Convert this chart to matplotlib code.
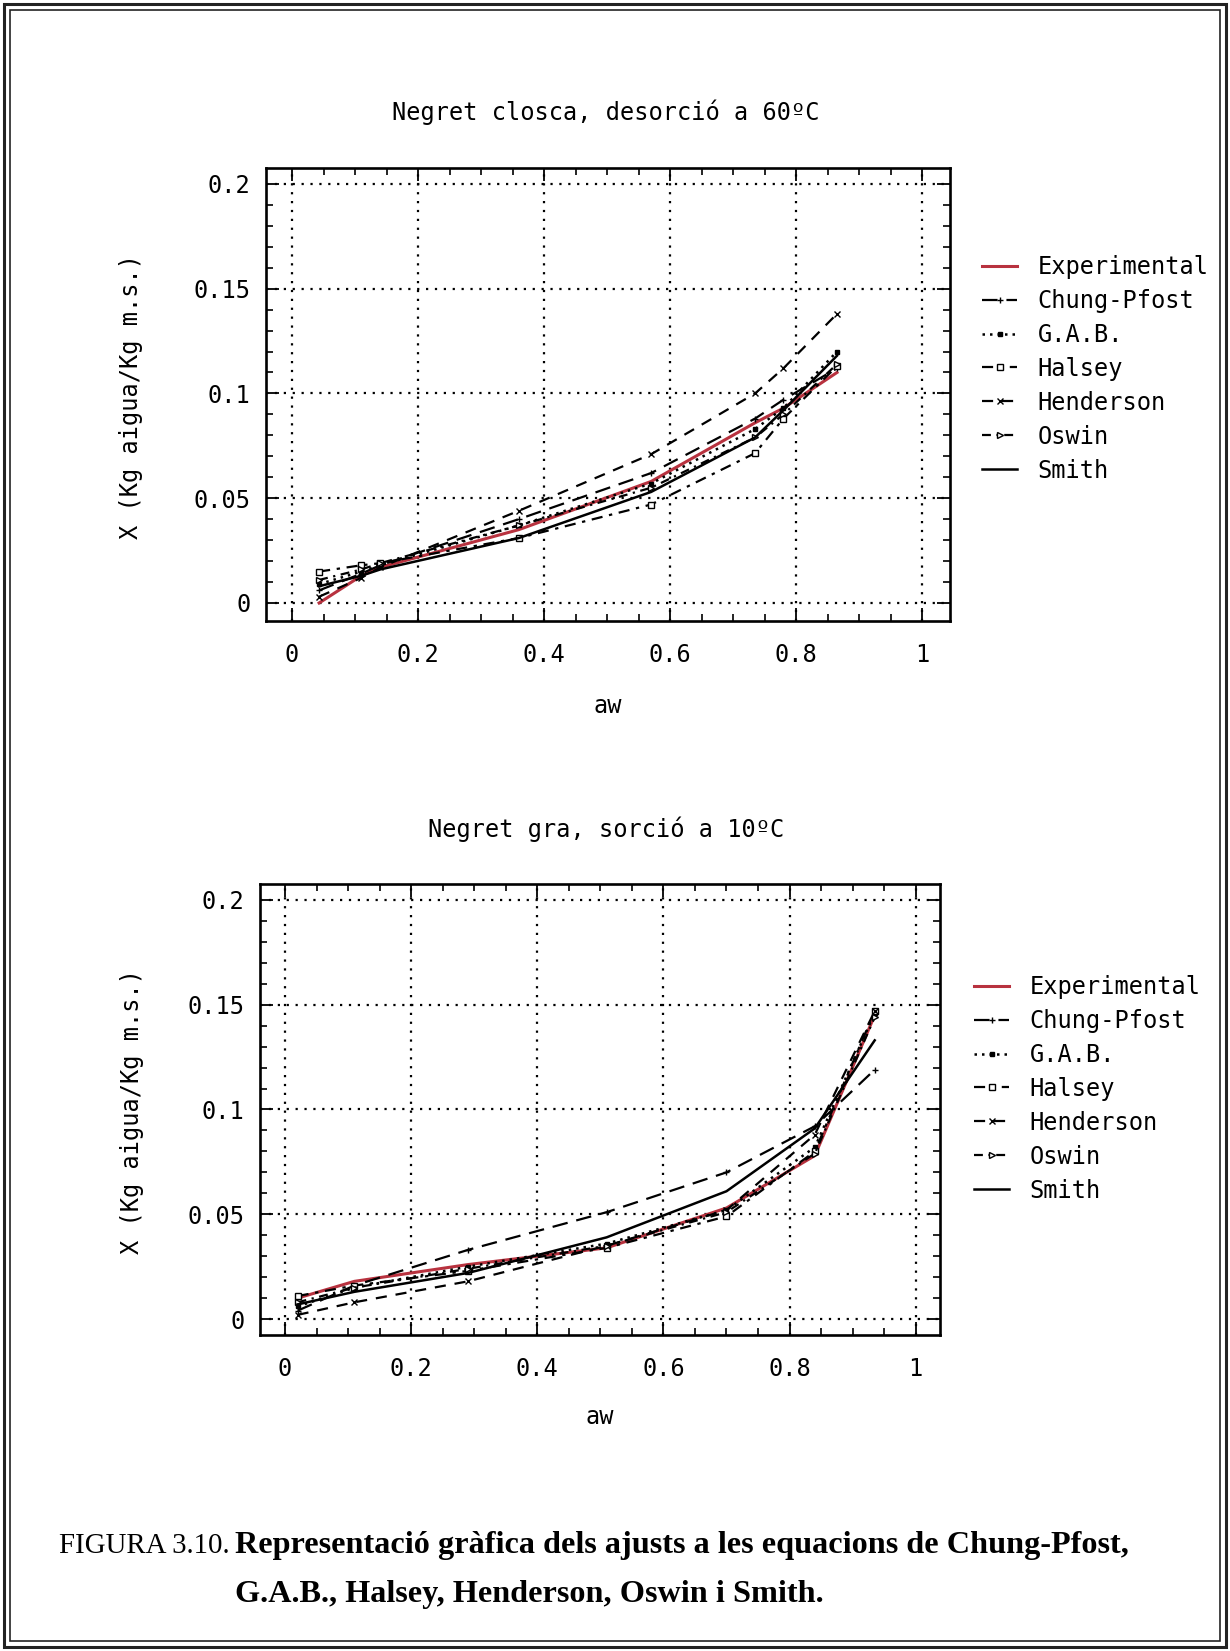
import matplotlib
matplotlib.use("Agg")
import matplotlib.pyplot as plt
from matplotlib.ticker import MultipleLocator, FuncFormatter
from matplotlib.patches import Rectangle

# ---------------- data ----------------
series_names = ["Experimental", "Chung-Pfost", "G.A.B.", "Halsey", "Henderson", "Oswin", "Smith"]

# Top: Negret closca, desorcio a 60 C
aw_top = [0.043, 0.11, 0.14, 0.36, 0.57, 0.735, 0.78, 0.865]
top_experimental = [0.000, 0.013, 0.017, 0.035, 0.058, 0.086, 0.093, 0.110]
top_chung_pfost = [0.006, 0.014, 0.018, 0.040, 0.062, 0.088, 0.097, 0.112]
top_gab = [0.009, 0.015, 0.018, 0.037, 0.057, 0.083, 0.093, 0.120]
top_halsey = [0.015, 0.018, 0.019, 0.031, 0.047, 0.0715, 0.088, 0.113]
top_henderson = [0.003, 0.012, 0.017, 0.044, 0.071, 0.100, 0.112, 0.138]
top_oswin = [0.011, 0.016, 0.019, 0.037, 0.055, 0.079, 0.090, 0.114]
top_smith = [0.008, 0.013, 0.016, 0.031, 0.053, 0.079, 0.092, 0.118]

# Bottom: Negret gra, sorcio a 10 C
aw_bot = [0.02, 0.11, 0.29, 0.51, 0.70, 0.84, 0.935]
bot_experimental = [0.010, 0.018, 0.026, 0.034, 0.053, 0.078, 0.145]
bot_chung_pfost = [0.004, 0.016, 0.033, 0.051, 0.070, 0.092, 0.119]
bot_gab = [0.006, 0.015, 0.025, 0.036, 0.052, 0.082, 0.146]
bot_halsey = [0.011, 0.016, 0.023, 0.034, 0.049, 0.080, 0.147]
bot_henderson = [0.002, 0.008, 0.018, 0.035, 0.052, 0.088, 0.147]
bot_oswin = [0.008, 0.015, 0.024, 0.035, 0.051, 0.079, 0.144]
bot_smith = [0.007, 0.013, 0.022, 0.039, 0.061, 0.091, 0.133]

x_ticks = [0, 0.2, 0.4, 0.6, 0.8, 1.0]
y_ticks = [0, 0.05, 0.1, 0.15, 0.2]

title_top = "Negret closca, desorció a 60ºC"
title_bot = "Negret gra, sorció a 10ºC"
xlabel = "aw"
ylabel = "X (Kg aigua/Kg m.s.)"
caption_a = "FIGURA 3.10."
caption_b1 = "Representació gràfica dels ajusts a les equacions de Chung-Pfost,"
caption_b2 = "G.A.B., Halsey, Henderson, Oswin i Smith."

# ---------------- styles ----------------
RED = "#b8323f"
styles = {
    "Experimental": dict(color=RED, lw=2.2, ls="-", marker=None),
    "Chung-Pfost": dict(color="black", lw=1.6, ls=(0, (7, 4)), marker="+", ms=5),
    "G.A.B.": dict(color="black", lw=1.8, ls=(0, (1, 2)), marker="s", ms=3, mfc="black"),
    "Halsey": dict(color="black", lw=1.6, ls=(0, (5, 3, 1.5, 3)), marker="s", ms=4, mfc="white"),
    "Henderson": dict(color="black", lw=1.6, ls=(0, (5, 4)), marker="x", ms=4),
    "Oswin": dict(color="black", lw=1.6, ls=(0, (4, 2.5, 1, 2.5)), marker=">", ms=4, mfc="white"),
    "Smith": dict(color="black", lw=1.8, ls="-", marker=None),
}

W, H = 1230, 1651
MONO = ["DejaVu Sans Mono"]
FS = 17

fig = plt.figure(figsize=(W / 100, H / 100), dpi=100)
fig.patch.set_facecolor("white")


def fx(x):
    return x / W


def fy(y):
    return 1 - y / H


def make_axes(left, right, top, bottom):
    return fig.add_axes([fx(left), fy(bottom), (right - left) / W, (bottom - top) / H])


def style_axes(ax, xlim, ylim):
    ax.set_xlim(*xlim)
    ax.set_ylim(*ylim)
    ax.set_xticks(x_ticks)
    ax.set_yticks(y_ticks)
    ax.xaxis.set_minor_locator(MultipleLocator(0.05))
    ax.yaxis.set_minor_locator(MultipleLocator(0.01))
    fmt = FuncFormatter(lambda v, p: "%g" % round(v, 4))
    ax.xaxis.set_major_formatter(fmt)
    ax.yaxis.set_major_formatter(fmt)
    ax.tick_params(which="both", direction="in", top=True, right=True, colors="black")
    ax.tick_params(which="major", length=9.5, width=1.3)
    ax.tick_params(which="minor", length=5, width=1.2)
    ax.tick_params(axis="y", which="major", pad=11)
    ax.tick_params(axis="x", which="major", pad=16)
    for lab in ax.get_xticklabels() + ax.get_yticklabels():
        lab.set_fontfamily(MONO)
        lab.set_fontsize(FS)
    for sp in ax.spines.values():
        sp.set_linewidth(1.9)
        sp.set_color("black")
    ax.grid(which="major", color="black", linestyle=(0, (1, 3)), linewidth=1.6)
    ax.set_axisbelow(True)


def draw_series(ax, xs, ys_list):
    handles = []
    for name, ys in zip(series_names, ys_list):
        st = styles[name]
        kw = dict(color=st["color"], lw=st["lw"], ls=st["ls"])
        if st.get("marker"):
            kw.update(marker=st["marker"], ms=st["ms"], mec="black",
                      mfc=st.get("mfc", "black"), mew=1.0)
        ln, = ax.plot(xs, ys, label=name, **kw)
        handles.append(ln)
    return handles


def legend(ax, handles, x, y):
    leg = ax.legend(handles=handles, loc="upper left",
                    bbox_to_anchor=(fx(x), fy(y)), bbox_transform=fig.transFigure,
                    frameon=False, prop=dict(family=MONO, size=FS),
                    handlelength=1.5, handletextpad=0.85, labelspacing=0.42,
                    borderpad=0, borderaxespad=0, numpoints=1)
    return leg


# ---------------- top plot ----------------
ax1 = make_axes(266, 950, 168, 621)
h1 = draw_series(ax1, aw_top, [top_experimental, top_chung_pfost, top_gab, top_halsey,
                               top_henderson, top_oswin, top_smith])
style_axes(ax1, (-0.0413, 1.0444), (-0.0086, 0.2076))
legend(ax1, h1, 982, 255)
fig.text(fx(606), fy(112), title_top, ha="center", va="center", family=MONO, fontsize=FS)
fig.text(fx(608), fy(706), xlabel, ha="center", va="center", family=MONO, fontsize=FS)
fig.text(fx(131), fy(396), ylabel, ha="center", va="center", rotation=90, family=MONO, fontsize=FS)

# ---------------- bottom plot ----------------
ax2 = make_axes(260, 940, 884, 1335)
h2 = draw_series(ax2, aw_bot, [bot_experimental, bot_chung_pfost, bot_gab, bot_halsey,
                               bot_henderson, bot_oswin, bot_smith])
style_axes(ax2, (-0.0396, 1.0385), (-0.0076, 0.2076))
legend(ax2, h2, 974, 975)
fig.text(fx(606), fy(829), title_bot, ha="center", va="center", family=MONO, fontsize=FS)
fig.text(fx(600), fy(1417), xlabel, ha="center", va="center", family=MONO, fontsize=FS)
fig.text(fx(132), fy(1111), ylabel, ha="center", va="center", rotation=90, family=MONO, fontsize=FS)

# ---------------- caption ----------------
SERIF = ["Liberation Serif", "DejaVu Serif"]
fig.text(fx(59), fy(1553), caption_a, ha="left", va="baseline", family=SERIF, fontsize=20.8)
fig.text(fx(235), fy(1553), caption_b1, ha="left", va="baseline", family=SERIF,
         fontsize=23.2, fontweight="bold")
fig.text(fx(235), fy(1602), caption_b2, ha="left", va="baseline", family=SERIF,
         fontsize=23.2, fontweight="bold")

# ---------------- page border (double line) ----------------
fig.add_artist(Rectangle((fx(4), fy(1647)), (W - 8) / W, (1647 - 4) / H, transform=fig.transFigure,
                         fill=False, lw=2.2, edgecolor="#222222"))
fig.add_artist(Rectangle((fx(10), fy(1641)), (W - 20) / W, (1641 - 10) / H, transform=fig.transFigure,
                         fill=False, lw=1.2, edgecolor="#222222"))

fig.savefig("out.png", dpi=100, facecolor="white")
